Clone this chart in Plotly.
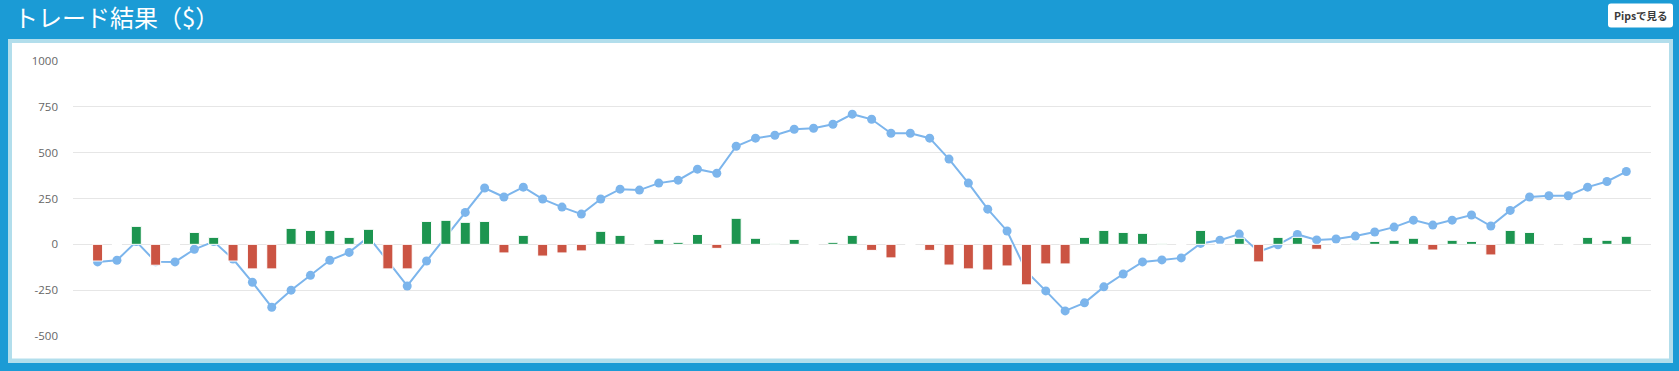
import plotly.graph_objects as go

# ---- data ----
trade_index = list(range(80))
trade_pl = [
    -91, 0, 98, -114, 0, 65, 38, -91, -134, -134,
    87, 76, 76, 38, 82, -134, -134, 125, 131, 120,
    125, -47, 49, -64, -47, -36, 71, 49, 0, 27,
    11, 54, -22, 142, 33, 5, 27, 0, 11, 49,
    -33, -74, 0, -33, -113, -134, -140, -118, -221, -107,
    -107, 38, 76, 65, 60, 5, 0, 76, 0, 33,
    -96, 38, 38, -27, 0, 5, 16, 22, 33, -31,
    22, 16, -58, 76, 65, 0, 0, 38, 22, 44,
]
cumulative = [
    -96, -87, 15, -95, -96, -27, 15, -80, -207, -343,
    -250, -169, -87, -44, 40, -92, -227, -91, 40, 174,
    307, 258, 312, 247, 203, 165, 247, 301, 296, 334,
    350, 410, 388, 535, 579, 595, 628, 633, 655, 710,
    682, 606, 606, 579, 465, 334, 192, 73, -148, -254,
    -363, -319, -232, -162, -96, -85, -74, 5, 22, 56,
    -40, -2, 54, 24, 29, 45, 67, 94, 132, 105,
    132, 160, 100, 185, 258, 265, 265, 312, 343, 397,
]
y_tickvals = [-500, -250, 0, 250, 500, 750, 1000]
y_ticktext = ["-500", "-250", "0", "250", "500", "750", "1000"]
title_text = "トレード結果（$）"
button_text = "Pipsで見る"

# ---- styling ----
W, H = 1679, 371
ML, MR, MT, MB = 73, 28, 61, 35
PW, PH = W - ML - MR, H - MT - MB
DARK_BLUE = "#1b9bd5"
LIGHT_BLUE = "#b2deec"
GREEN = "#1d9550"
RED = "#cb5443"
LINE_BLUE = "#7cb5ec"
X_RANGE = [-1.271, 80.276]
Y_RANGE = [-500, 1000]


def px2x(px):
    return (px - ML) / PW


def px2y(py):
    return (H - MB - py) / PH


def rounded_rect(x0, y0, x1, y1, r):
    X = lambda v: px2x(v)
    Y = lambda v: px2y(v)
    return (
        f"M {X(x0 + r)},{Y(y0)} L {X(x1 - r)},{Y(y0)} "
        f"Q {X(x1)},{Y(y0)} {X(x1)},{Y(y0 + r)} L {X(x1)},{Y(y1 - r)} "
        f"Q {X(x1)},{Y(y1)} {X(x1 - r)},{Y(y1)} L {X(x0 + r)},{Y(y1)} "
        f"Q {X(x0)},{Y(y1)} {X(x0)},{Y(y1 - r)} L {X(x0)},{Y(y0 + r)} "
        f"Q {X(x0)},{Y(y0)} {X(x0 + r)},{Y(y0)} Z"
    )


bar_colors = [GREEN if v >= 0 else RED for v in trade_pl]

fig = go.Figure()
fig.add_trace(go.Scatter(
    x=trade_index, y=cumulative, mode="lines+markers",
    line=dict(color=LINE_BLUE, width=2),
    marker=dict(color=LINE_BLUE, size=9),
    showlegend=False, hoverinfo="skip",
))
# bars on an overlaid subplot so they are drawn above the line
fig.add_trace(go.Bar(
    x=trade_index, y=trade_pl, width=0.517, xaxis="x2", yaxis="y2",
    marker=dict(color=bar_colors, line=dict(color="white", width=1)),
    showlegend=False, hoverinfo="skip",
))

shapes = [
    dict(type="rect", xref="paper", yref="paper", layer="below",
         x0=px2x(8), x1=px2x(1673), y0=px2y(363), y1=px2y(39),
         fillcolor=LIGHT_BLUE, line=dict(width=0)),
    dict(type="rect", xref="paper", yref="paper", layer="below",
         x0=px2x(12), x1=px2x(1669), y0=px2y(358.5), y1=px2y(43),
         fillcolor="white", line=dict(width=0)),
    dict(type="path", xref="paper", yref="paper", layer="above",
         path=rounded_rect(1608, 3.5, 1673, 27.5, 3),
         fillcolor="white", line=dict(width=0)),
]

annotations = [
    dict(text=title_text, xref="paper", yref="paper",
         x=px2x(12), y=px2y(16.5), xanchor="left", yanchor="middle",
         showarrow=False,
         font=dict(family="Noto Sans CJK JP", size=24, color="white")),
    dict(text=button_text, xref="paper", yref="paper",
         x=px2x(1640.5), y=px2y(15.5), xanchor="center", yanchor="middle",
         showarrow=False,
         font=dict(family="Noto Sans CJK JP", size=10.5, color="#3a3a3a",
                   weight="bold")),
]

fig.update_layout(
    width=W, height=H,
    margin=dict(l=ML, r=MR, t=MT, b=MB, pad=0),
    paper_bgcolor=DARK_BLUE, plot_bgcolor="white",
    barmode="overlay", showlegend=False,
    shapes=shapes, annotations=annotations,
    xaxis=dict(range=X_RANGE, showgrid=False, zeroline=False,
               showticklabels=False, ticks="", showline=False, fixedrange=True),
    yaxis=dict(range=Y_RANGE, tickvals=y_tickvals, ticktext=y_ticktext,
               showgrid=True, gridcolor="#e6e6e6", gridwidth=1,
               zeroline=False, showline=False, ticks="",
               ticklabelstandoff=14,
               tickfont=dict(family="Open Sans", size=11.5, color="#666666"),
               fixedrange=True),
    xaxis2=dict(range=X_RANGE, overlaying="x", visible=False,
                showgrid=False, zeroline=False, fixedrange=True),
    yaxis2=dict(range=Y_RANGE, overlaying="y", visible=False,
                showgrid=False, zeroline=False, fixedrange=True),
)

fig.write_html("out.html")
